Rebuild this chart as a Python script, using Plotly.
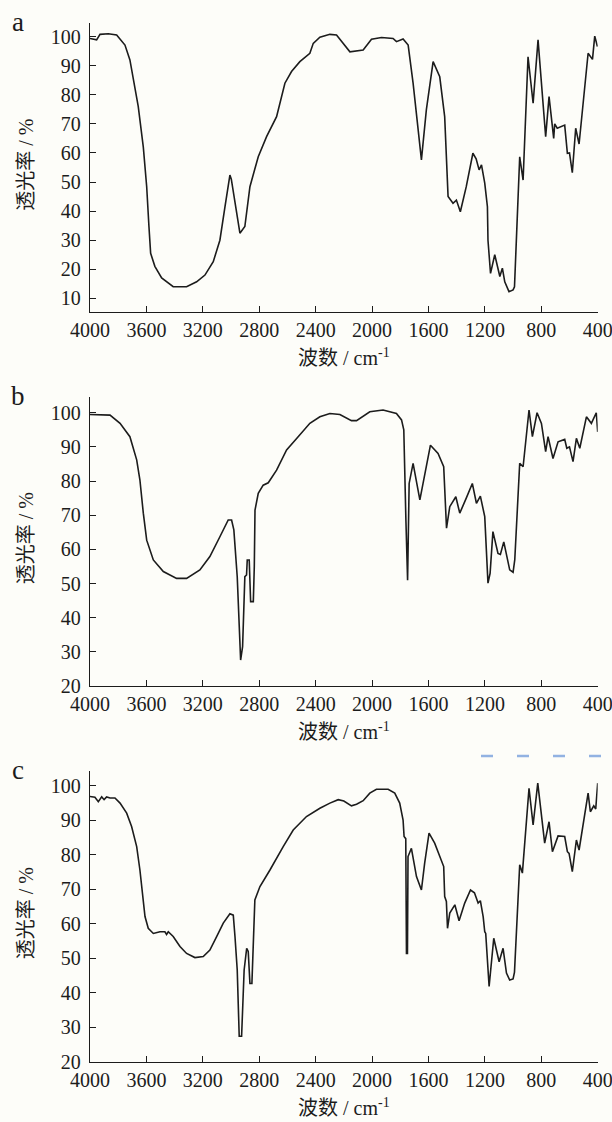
import plotly.graph_objects as go

# ---------------- data ----------------
wn_a = [4000, 3953, 3929, 3870, 3811, 3752, 3717, 3693, 3658, 3622, 3598, 3582, 3570, 3540, 3492,
        3410, 3315, 3244, 3185, 3126, 3079, 3043, 3008, 2998, 2960, 2937, 2902, 2866, 2807, 2748,
        2677, 2618, 2571, 2512, 2441, 2417, 2370, 2299, 2252, 2157, 2063, 2004, 1933, 1851, 1827,
        1780, 1744, 1709, 1650, 1615, 1567, 1520, 1485, 1461, 1426, 1402, 1374, 1332, 1285, 1262,
        1241, 1224, 1201, 1182, 1178, 1169, 1160, 1130, 1094, 1076, 1059, 1029, 1000, 990, 953,
        929, 894, 858, 823, 769, 745, 712, 705, 687, 634, 615, 600, 580, 556, 532, 468, 437, 421, 402]
t_a = [99.4, 98.9, 100.8, 101.0, 100.6, 97.1, 92, 85, 76, 62, 48.4, 34.7, 25.5, 21, 17,
       14, 14, 15.7, 18, 22.6, 30, 41.5, 52.4, 51, 39.3, 32.4, 34.7, 48.4, 58.7, 65.6,
       72.5, 84, 88, 91.4, 94.3, 97.7, 99.8, 100.8, 100.6, 94.8, 95.4, 99.1, 99.7, 99.4, 98.3,
       99.2, 97.1, 84, 57.6, 74.8, 91.4, 86.2, 72.5, 45, 42.7, 43.8, 39.8, 48.4, 59.9, 58,
       54.2, 55.9, 49.6, 41.5, 30, 25, 18.6, 25, 17.5, 20.4, 15.7, 12.3, 12.9, 14, 58.7,
       50.7, 93.1, 77.1, 98.9, 65.6, 79.4, 65, 70, 68.5, 69.6, 59.9, 60, 53.2, 68.5, 63.1, 94.3, 92.2, 100.2, 96.6]

wn_b = [4000, 3858, 3787, 3717, 3669, 3646, 3622, 3598, 3551, 3480, 3386, 3315, 3221, 3150, 3079,
        3020, 2996, 2980, 2956, 2942, 2932, 2918, 2902, 2890, 2885, 2871, 2861, 2842, 2835, 2830,
        2807, 2772, 2736, 2677, 2606, 2524, 2441, 2370, 2299, 2228, 2146, 2110, 2016, 1922, 1827,
        1791, 1775, 1760, 1748, 1737, 1709, 1661, 1633, 1586, 1532, 1492, 1472, 1449, 1406, 1378,
        1332, 1289, 1260, 1232, 1201, 1178, 1163, 1143, 1107, 1090, 1066, 1024, 1000, 988, 953,
        929, 887, 863, 830, 799, 769, 752, 717, 681, 634, 619, 600, 575, 551, 527, 480, 445, 410, 400]
t_b = [99.5, 99.3, 96.9, 93, 86.2, 80.3, 70.6, 62.7, 56.9, 53.5, 51.5, 51.5, 54, 57.9, 63.7,
       68.6, 68.6, 65.7, 52, 34.4, 27.6, 31.5, 52, 52.5, 56.9, 56.9, 44.7, 44.7, 55, 71.5,
       76.4, 78.8, 79.5, 83.2, 89.1, 93, 96.9, 98.8, 99.8, 99.5, 97.7, 97.7, 100.3, 100.8, 99.8,
       97.9, 95, 68.6, 51, 79.3, 85.2, 74.5, 80.3, 90.5, 88.1, 84.2, 66.2, 72.5, 75.4, 70.6,
       75, 79.3, 73.5, 75.6, 69.6, 50.1, 53, 65.2, 58.8, 58.5, 62.2, 54, 53.3, 57, 85.2,
       84.2, 100.8, 93, 100, 96.9, 88.6, 93, 86.6, 91.5, 92.2, 89.6, 90, 85.7, 92.5, 89.6, 98.8, 96.9, 100, 94.4]

wn_c = [4000, 3965, 3941, 3917, 3900, 3882, 3858, 3823, 3787, 3740, 3705, 3669, 3646, 3627, 3610,
        3587, 3551, 3504, 3469, 3457, 3445, 3410, 3362, 3315, 3256, 3197, 3150, 3102, 3055, 3008,
        2984, 2972, 2956, 2942, 2925, 2907, 2889, 2878, 2866, 2852, 2838, 2831, 2795, 2724, 2630,
        2559, 2465, 2370, 2299, 2240, 2200, 2146, 2110, 2063, 2016, 1969, 1886, 1839, 1804, 1780,
        1773, 1761, 1756, 1749, 1745, 1721, 1685, 1650, 1627, 1596, 1556, 1509, 1492, 1485, 1473,
        1465, 1449, 1413, 1383, 1343, 1302, 1274, 1248, 1232, 1212, 1201, 1194, 1170, 1137, 1099,
        1071, 1047, 1024, 1000, 990, 953, 934, 887, 858, 825, 776, 745, 721, 681, 634, 615, 603,
        580, 551, 532, 468, 452, 428, 414, 400]
t_c = [96.9, 96.7, 95.4, 96.8, 96, 96.8, 96.5, 96.5, 95, 92.1, 88.2, 82.4, 75.6, 67.9, 62.1,
       58.7, 57.2, 57.7, 57.7, 56.9, 57.7, 56.3, 53.4, 51.4, 50.2, 50.5, 52.4, 56.3, 60.2, 62.9,
       62.5, 56.3, 46.6, 27.4, 27.4, 46.6, 52.9, 52, 42.7, 42.7, 58.2, 66.9, 70.8, 75.6, 82.4,
       87.2, 91.1, 93.5, 95, 96, 95.6, 94.2, 94.7, 95.7, 97.9, 99, 99, 97.9, 95, 90.1,
       85.3, 84.7, 51.4, 51.4, 79.5, 81.9, 73.7, 69.8, 77.6, 86.3, 83.4, 78.5, 76.6, 67.9, 66.5,
       58.7, 63.1, 65.5, 60.9, 66, 69.8, 69, 66, 66.7, 62, 57.7, 57.2, 41.8, 55.8, 49,
       52.9, 45.7, 43.7, 44, 46, 77.1, 74.7, 99.3, 88.7, 100.8, 83.4, 89.6, 80.9, 85.5, 85.3, 80.9, 80.4,
       75.1, 84.3, 81.4, 97.9, 92.5, 94.2, 93.3, 100.8]

x_ticks = [4000, 3600, 3200, 2800, 2400, 2000, 1600, 1200, 800, 400]
y_ticks_a = [10, 20, 30, 40, 50, 60, 70, 80, 90, 100]
y_ticks_bc = [20, 30, 40, 50, 60, 70, 80, 90, 100]
panel_letters = ["a", "b", "c"]
x_title = "波数 / cm<sup>-1</sup>"
y_title = "透光率 / %"

# ---------------- layout geometry ----------------
W, H = 612, 1122
BG = "#fdfdf9"
INK = "#1c1c1c"
SERIF = "Liberation Serif, Times New Roman, serif"
CJK = "Liberation Serif, Noto Sans CJK SC, serif"

x_dom = [90 / W, 597.7 / W]
panels = [
    dict(wn=wn_a, t=t_a, top=23.3, bot=312.3, yr=[5.2, 104.6], yt=y_ticks_a),
    dict(wn=wn_b, t=t_b, top=396.7, bot=686.0, yr=[20, 104.7], yt=y_ticks_bc),
    dict(wn=wn_c, t=t_c, top=770.7, bot=1061.7, yr=[20, 104.4], yt=y_ticks_bc),
]

fig = go.Figure()
layout = dict(
    width=W, height=H, margin=dict(l=0, r=0, t=0, b=0, autoexpand=False),
    paper_bgcolor=BG, plot_bgcolor=BG, showlegend=False,
    font=dict(family=SERIF, size=20, color=INK),
)
annotations = []
for i, p in enumerate(panels):
    k = "" if i == 0 else str(i + 1)
    fig.add_trace(go.Scatter(x=p["wn"], y=p["t"], mode="lines",
                             line=dict(color=INK, width=1.6),
                             xaxis="x" + k, yaxis="y" + k, hoverinfo="skip"))
    ydom = [1 - p["bot"] / H, 1 - p["top"] / H]
    layout["xaxis" + k] = dict(
        domain=x_dom, anchor="y" + k, range=[4000, 400], tickvals=x_ticks,
        ticks="inside", ticklen=6, tickwidth=1.2, tickcolor=INK, automargin=False,
        showline=True, linecolor=INK, linewidth=1.3, showgrid=False, zeroline=False,
        tickfont=dict(family=SERIF, size=20, color=INK), ticklabeloverflow="allow",
    )
    layout["yaxis" + k] = dict(
        domain=ydom, anchor="x" + k, range=p["yr"], tickvals=p["yt"],
        ticks="inside", ticklen=6, tickwidth=1.2, tickcolor=INK, automargin=False,
        showline=True, linecolor=INK, linewidth=1.3, showgrid=False, zeroline=False,
        tickfont=dict(family=SERIF, size=20, color=INK), ticklabelstandoff=4,
        ticklabeloverflow="allow",
    )
    mid_y = (p["top"] + p["bot"]) / 2
    annotations.append(dict(text=y_title, textangle=-90, x=26 / W, y=1 - (mid_y - 3) / H,
                            xref="paper", yref="paper", xanchor="center", yanchor="middle",
                            showarrow=False, font=dict(family=CJK, size=20, color=INK)))
    annotations.append(dict(text=x_title, x=343.8 / W, y=1 - (p["bot"] + 45) / H,
                            xref="paper", yref="paper", xanchor="center", yanchor="middle",
                            showarrow=False, font=dict(family=CJK, size=20, color=INK)))
    annotations.append(dict(text=panel_letters[i], x=18 / W, y=1 - (p["top"] - 1) / H,
                            xref="paper", yref="paper", xanchor="center", yanchor="middle",
                            showarrow=False, font=dict(family=SERIF, size=27, color=INK)))

layout["annotations"] = annotations

# faint blue dashed stroke visible near the top right of panel c
layout["shapes"] = [
    dict(type="line", xref="paper", yref="paper",
         x0=481 / W, x1=612 / W, y0=1 - 756 / H, y1=1 - 756 / H,
         line=dict(color="#92b2e2", width=2.5, dash="12px,24px")),
]

fig.update_layout(**layout)
fig.write_html("out.html")
